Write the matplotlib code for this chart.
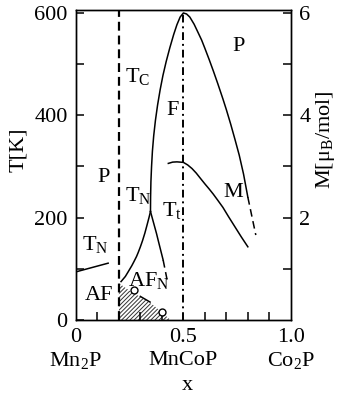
import matplotlib
matplotlib.use("Agg")
import matplotlib.pyplot as plt

plt.rcParams["font.family"] = "Liberation Serif"
plt.rcParams["mathtext.fontset"] = "custom"
plt.rcParams["mathtext.rm"] = "Liberation Serif"
plt.rcParams["mathtext.it"] = "Liberation Serif:italic"
plt.rcParams["font.size"] = 16
plt.rcParams["hatch.linewidth"] = 0.7

# phase boundaries, T in K
tc_x = [0.347, 0.3475, 0.349, 0.352, 0.356, 0.362, 0.370, 0.380, 0.392, 0.405, 0.42, 0.437,
        0.455, 0.47, 0.485, 0.5, 0.515, 0.53, 0.55, 0.567, 0.585, 0.60, 0.62, 0.64, 0.66,
        0.684, 0.70, 0.72, 0.74, 0.76, 0.78, 0.80]
tc_T = [212, 240, 270, 300, 330, 360, 390, 420, 450, 478, 505, 532,
        558, 577, 592, 600, 598, 592, 578, 563, 547, 531, 509, 486, 462,
        432, 411, 383, 353, 322, 285, 240]
tc_dash_x = [0.80, 0.837]
tc_dash_T = [240, 166]

tn_left_x = [0.0, 0.15]
tn_left_T = [94, 111]

tn_x = [0.347, 0.34, 0.33, 0.321, 0.31, 0.30, 0.29, 0.282, 0.27, 0.26, 0.243, 0.23, 0.21]
tn_T = [212, 200, 184, 170, 155, 143, 132, 124, 114, 106, 94, 85, 75]

tt_x = [0.347, 0.36, 0.375, 0.385, 0.394, 0.406]
tt_T = [212, 192, 169, 152, 137, 117]
tt_dash_x = [0.406, 0.426]
tt_dash_T = [117, 75]

hatch_x = [0.2, 0.2, 0.25, 0.30, 0.36, 0.40, 0.44]
hatch_T = [0, 72, 57, 45, 29, 15, 0]
edge_x = [0.30, 0.345]
edge_T = [46, 35]

circ_x = [0.271, 0.401]
circ_T = [59, 16]

# magnetization, mu_B / mol
m_x = [0.43, 0.45, 0.47, 0.50, 0.52, 0.54, 0.56, 0.577, 0.60, 0.62, 0.639, 0.66,
       0.684, 0.71, 0.74, 0.77, 0.80]
m_val = [3.06, 3.085, 3.09, 3.08, 3.03, 2.96, 2.87, 2.78, 2.66, 2.56, 2.46, 2.34,
         2.20, 2.02, 1.82, 1.62, 1.43]

fig = plt.figure(figsize=(3.45, 3.96), dpi=100)
ax = fig.add_axes([0.220, 0.192, 0.623, 0.783])
ax2 = ax.twinx()

lw = 1.1
ax.plot(tc_x, tc_T, color="black", lw=lw)
ax.plot(tc_dash_x, tc_dash_T, color="black", lw=lw, ls=(0, (5, 3)))
ax.plot(tn_left_x, tn_left_T, color="black", lw=lw)
ax.plot(tn_x, tn_T, color="black", lw=lw)
ax.plot(tt_x, tt_T, color="black", lw=lw)
ax.plot(tt_dash_x, tt_dash_T, color="black", lw=lw, ls=(0, (5, 3)))
ax.fill(hatch_x, hatch_T, facecolor="white", edgecolor="#333333", hatch="////////", lw=0)
ax.plot(edge_x, edge_T, color="black", lw=lw)
ax.plot(circ_x, circ_T, ls="none", marker="o", ms=5, mfc="white", mec="black", mew=1.0)

ax.axvline(0.2, color="black", lw=1.6, ls=(0, (4, 2.2)))
ax.axvline(0.5, color="black", lw=1.4, ls=(0, (4, 2, 1, 2)))

ax2.plot(m_x, m_val, color="black", lw=lw)

ax.set_xlim(0, 1.0)
ax.set_ylim(0, 606)
ax2.set_ylim(0, 6.06)

ax.set_xticks([0, 0.5, 1.0])
ax.set_xticklabels(["0", "0.5", "1.0"])
ax.set_xticks([0.1, 0.2, 0.3, 0.4, 0.6, 0.7, 0.8, 0.9], minor=True)
ax.set_yticks([0, 200, 400, 600])
ax.set_yticks([100, 300, 500], minor=True)
ax2.set_yticks([2, 4, 6])
ax2.set_yticks([1, 3, 5], minor=True)

for a in (ax, ax2):
    a.tick_params(which="both", direction="in", length=6, width=1.1, pad=6)
    for s in a.spines.values():
        s.set_linewidth(1.0)
ax.tick_params(axis="x", which="major", length=0)

ax.set_ylabel("T[K]")
ax.yaxis.set_label_coords(-0.223, 0.55)
ax2.set_ylabel("M[μ$_{\\rm B}$/mol]")
ax2.yaxis.set_label_coords(1.11, 0.58)

tr = ax.get_xaxis_transform()
ax.text(0.0, -0.13, "Mn$_2$P", transform=tr, ha="center", va="center")
ax.text(0.5, -0.13, "MnCoP", transform=tr, ha="center", va="center")
ax.text(1.0, -0.13, "Co$_2$P", transform=tr, ha="center", va="center")
ax.text(0.52, -0.21, "x", transform=tr, ha="center", va="center")

ax.text(0.228, 475, "T$_{\\rm C}$", va="center")
ax.text(0.10, 278, "P", va="center")
ax.text(0.73, 534, "P", va="center")
ax.text(0.423, 410, "F", va="center")
ax.text(0.228, 244, "T$_{\\rm N}$", va="center")
ax.text(0.03, 147, "T$_{\\rm N}$", va="center")
ax.text(0.40, 214, "T$_{\\rm t}$", va="center")
ax.text(0.243, 78, "AF$_{\\rm N}$", va="center")
ax.text(0.042, 47, "AF", va="center")
ax.text(0.684, 250, "M", va="center")

fig.savefig("out.png", dpi=100)
